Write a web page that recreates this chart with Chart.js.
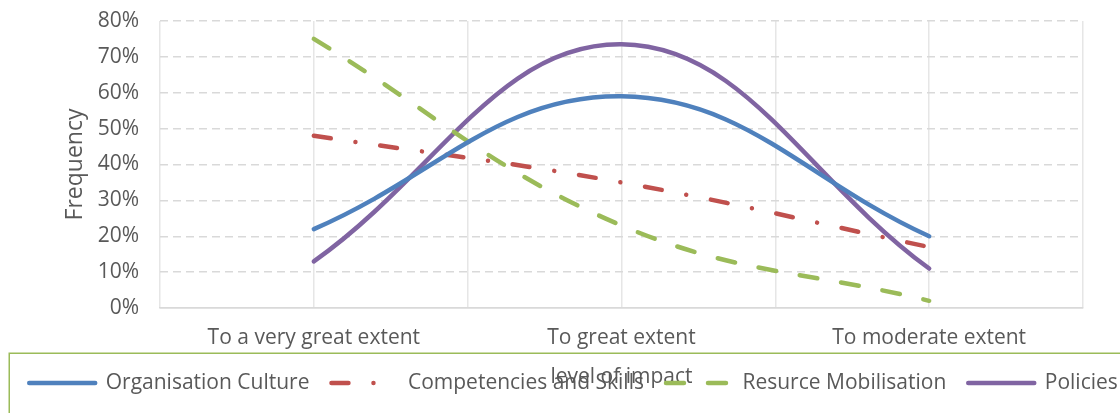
<!DOCTYPE html>
<html>
<head>
<meta charset="utf-8">
<script src="https://cdn.jsdelivr.net/npm/chart.js@4.4.1/dist/chart.umd.min.js"></script>
<style>
  html, body { margin: 0; padding: 0; background: #ffffff; }
  #wrap { width: 1120px; height: 413px; }
</style>
</head>
<body>
<div id="wrap"><canvas id="chart" width="1120" height="413"></canvas></div>
<script>
// Level of impact categories and the share of respondents (%) per factor
const categories = ['To a very great extent', 'To great extent', 'To moderate extent'];
const organisationCulture = [22, 59, 20];
const competenciesSkills = [48, 35, 17];
const resurceMobilisation = [75, 23, 2];
const policies = [13, 73.5, 11];

const seriesNames = ['Organisation Culture', 'Competencies and Skills', 'Resurce Mobilisation', 'Policies'];
const yMin = 0, yMax = 80, yStep = 10;

const FONT = "'Open Sans', 'DejaVu Sans', sans-serif";
const TEXT = '#595959';
const LINE_W = 4.5;

function points(values) {
  return values.map((v, i) => ({ x: i, y: v }));
}

function lineSet(label, values, color, dash) {
  return {
    label,
    data: points(values),
    borderColor: color,
    backgroundColor: color,
    borderWidth: LINE_W,
    borderDash: dash,
    borderCapStyle: 'round',
    borderJoinStyle: 'round',
    tension: 0.4,
    pointRadius: 0,
    pointHoverRadius: 0,
    fill: false
  };
}

// Green outline around the legend strip
const legendFrame = {
  id: 'legendFrame',
  afterDraw(chart) {
    const lg = chart.legend;
    if (!lg) return;
    const ctx = chart.ctx;
    ctx.save();
    ctx.strokeStyle = '#9bbb59';
    ctx.lineWidth = 1.5;
    ctx.strokeRect(9.25, lg.top + 2.75, chart.width + 40, lg.height + 40);
    ctx.restore();
  }
};

new Chart(document.getElementById('chart'), {
  type: 'line',
  data: {
    datasets: [
      lineSet(seriesNames[0], organisationCulture, '#4f81bd', []),
      lineSet(seriesNames[1], competenciesSkills, '#c0504d', [17, 25, 0.01, 25]),
      lineSet(seriesNames[2], resurceMobilisation, '#9bbb59', [18, 24]),
      lineSet(seriesNames[3], policies, '#8064a2', [])
    ]
  },
  options: {
    responsive: false,
    animation: false,
    events: [],
    layout: { padding: { left: -3, right: -30, top: 21, bottom: 9.5 } },
    scales: {
      x: {
        type: 'linear',
        min: -0.5,
        max: 2.5,
        afterFit(scale) { scale.height = 42.5; },
        ticks: {
          stepSize: 0.5,
          autoSkip: false,
          maxRotation: 0,
          padding: 17.4,
          color: TEXT,
          font: { family: FONT, size: 21 },
          callback(v) {
            const r = Math.round(v);
            return Math.abs(v - r) < 1e-6 && categories[r] !== undefined ? categories[r] : '';
          }
        },
        grid: { color: '#e6e6e6', lineWidth: 1.5, drawTicks: false },
        border: { display: true, color: '#d9d9d9', width: 1.5 },
        title: {
          display: true,
          text: 'level of impact',
          color: TEXT,
          font: { family: FONT, size: 21 },
          padding: { top: 0, bottom: -39.1 }
        }
      },
      y: {
        type: 'linear',
        position: 'left',
        min: yMin,
        max: yMax,
        afterFit(scale) { scale.width = 163; },
        ticks: {
          stepSize: yStep,
          padding: 0,
          color: TEXT,
          font: { family: FONT, size: 21 },
          callback: (v) => v + '%'
        },
        // invisible tick marks keep the labels clear of the plot edge
        grid: { color: '#d9d9d9', lineWidth: 1.5, drawTicks: true, tickLength: 21, tickColor: 'rgba(0,0,0,0)' },
        border: {
          display: false,
          dash: (ctx) => (ctx.tick && ctx.tick.value === 0 ? [] : [8, 5])
        },
        title: {
          display: true,
          text: 'Frequency',
          color: TEXT,
          font: { family: FONT, size: 23 },
          padding: { top: 64.2, bottom: 0 }
        }
      },
      yRight: {
        type: 'linear',
        position: 'right',
        display: true,
        afterFit(scale) { scale.width = 67; },
        ticks: { display: false },
        grid: { display: false, drawTicks: false },
        border: { display: false }
      }
    },
    plugins: {
      tooltip: { enabled: false },
      legend: {
        display: true,
        position: 'bottom',
        labels: {
          usePointStyle: true,
          pointStyle: 'line',
          pointStyleWidth: 66,
          padding: 22,
          color: TEXT,
          font: { family: FONT, size: 21 },
          generateLabels(chart) {
            const items = Chart.defaults.plugins.legend.labels.generateLabels(chart);
            return items.map((item) => {
              const ds = chart.data.datasets[item.datasetIndex];
              return Object.assign(item, {
                strokeStyle: ds.borderColor,
                fillStyle: ds.borderColor,
                lineWidth: LINE_W,
                lineDash: ds.borderDash,
                lineCap: 'round',
                pointStyle: 'line'
              });
            });
          }
        }
      }
    }
  },
  plugins: [legendFrame]
});
</script>
</body>
</html>
